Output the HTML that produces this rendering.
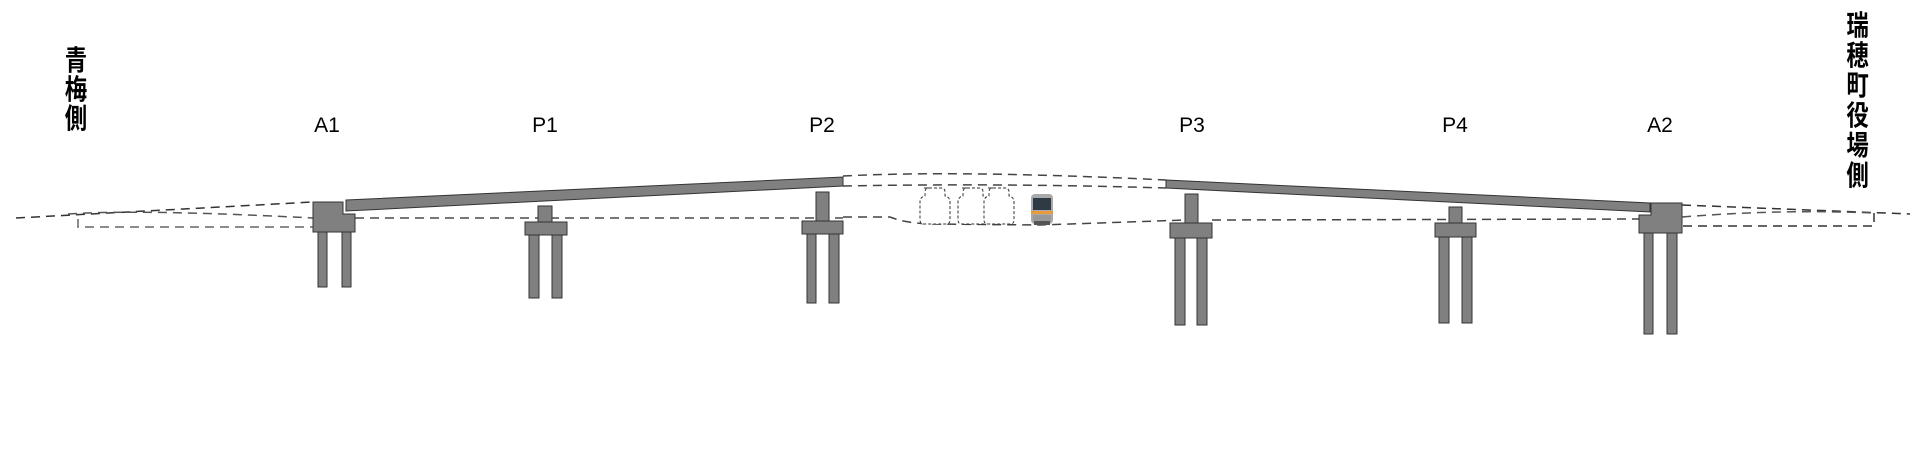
<!DOCTYPE html>
<html><head><meta charset="utf-8"><style>
html,body{margin:0;padding:0;background:#fff;}
svg{display:block}
</style></head><body>
<svg width="1920" height="450" viewBox="0 0 1920 450" xmlns="http://www.w3.org/2000/svg">
<g font-family="Liberation Sans, sans-serif" font-size="21" fill="#000" text-anchor="middle">
<text x="327" y="132">A1</text>
<text x="545" y="132">P1</text>
<text x="822" y="132">P2</text>
<text x="1192" y="132">P3</text>
<text x="1455" y="132">P4</text>
<text x="1660" y="132">A2</text>
</g>
<g font-family="Liberation Sans, 'Noto Sans CJK JP', sans-serif" font-size="28" font-weight="bold" fill="#000" text-anchor="middle" transform="scale(0.8,1)">
<text x="95" y="70">青</text><text x="95" y="99">梅</text><text x="95" y="128">側</text>
<text x="2322" y="35">瑞</text><text x="2322" y="65">穂</text><text x="2322" y="95">町</text>
<text x="2322" y="125">役</text><text x="2322" y="155">場</text><text x="2322" y="185">側</text>
</g>
<g fill="none" stroke-width="1.5" stroke-dasharray="9,6">
<path d="M16 218 L313 202" stroke="#333"/>
<path d="M68 214 Q140 209 313 218" stroke="#555"/>
<path d="M78 219 V227 H313" stroke="#666"/>
<path d="M355 218 H843" stroke="#777" stroke-width="2"/>
<path d="M843 176 Q960 170 1166 180" stroke="#444"/>
<path d="M843 186 Q1000 183 1166 188" stroke="#444"/>
<path d="M843 217 H890 Q905 223 930 224 L1040 225 Q1100 223 1185 220" stroke="#444"/>
<path d="M1212 220 L1639 219" stroke="#444"/>
<path d="M1682 205 L1910 214" stroke="#333"/>
<path d="M1682 217 Q1780 209 1874 213" stroke="#555"/>
<path d="M1874 213 V226 H1682" stroke="#333"/>
</g>
<g fill="#808080" stroke="#333" stroke-width="1">
<polygon points="346,200 843,177 843,186 346,211"/>
<polygon points="1166,180 1650,203 1650,212 1166,188"/>
<polygon points="313,202 343,202 343,214 355,214 355,232 313,232"/>
<rect x="318" y="232" width="9" height="55"/><rect x="342" y="232" width="9" height="55"/>
<rect x="538" y="206" width="14" height="16"/><rect x="525" y="222" width="42" height="13"/>
<rect x="529" y="235" width="10" height="63"/><rect x="552" y="235" width="10" height="63"/>
<rect x="816" y="192" width="13" height="29"/><rect x="802" y="221" width="41" height="13"/>
<rect x="807" y="234" width="9" height="69"/><rect x="829" y="234" width="10" height="69"/>
<rect x="1185" y="194" width="13" height="29"/><rect x="1170" y="223" width="42" height="15"/>
<rect x="1175" y="238" width="10" height="87"/><rect x="1197" y="238" width="10" height="87"/>
<rect x="1449" y="207" width="13" height="16"/><rect x="1435" y="223" width="41" height="14"/>
<rect x="1439" y="237" width="10" height="86"/><rect x="1462" y="237" width="10" height="86"/>
<polygon points="1651,203 1682,203 1682,233 1639,233 1639,215 1651,215"/>
<rect x="1644" y="233" width="9" height="101"/><rect x="1667" y="233" width="10" height="101"/>
</g>
<g fill="#fff" stroke="#333" stroke-width="1" stroke-dasharray="3,2">
<path d="M924 188 h17 q4 0 4 4 v4 q5 1 5 6 v18 q0 4 -4 4 h-22 q-4 0 -4 -4 v-18 q0 -5 5 -6 v-4 q0 -4 4 -4z"/>
<path d="M962 188 h17 q4 0 4 4 v4 q5 1 5 6 v18 q0 4 -4 4 h-22 q-4 0 -4 -4 v-18 q0 -5 5 -6 v-4 q0 -4 4 -4z"/>
<path d="M988 188 h17 q4 0 4 4 v4 q5 1 5 6 v18 q0 4 -4 4 h-22 q-4 0 -4 -4 v-18 q0 -5 5 -6 v-4 q0 -4 4 -4z"/>
</g>
<g>
<rect x="1031" y="194" width="22" height="30" rx="4" fill="#aaa"/>
<rect x="1033" y="198" width="18" height="12" fill="#2e3a44"/>
<rect x="1031" y="211" width="22" height="3" fill="#e89a3c"/>
<rect x="1033" y="215" width="18" height="6" fill="#999"/>
<rect x="1034" y="221" width="16" height="4" fill="#555"/>
</g>
</svg>
</body></html>
